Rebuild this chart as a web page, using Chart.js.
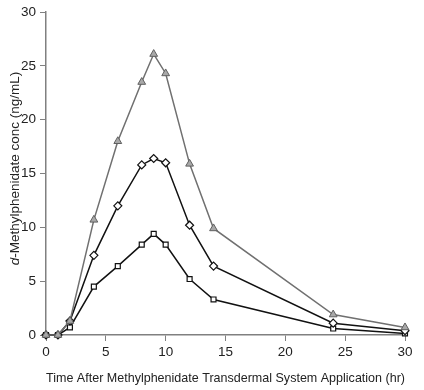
<!DOCTYPE html>
<html>
<head>
<meta charset="utf-8">
<script src="https://cdn.jsdelivr.net/npm/chart.js@4/dist/chart.umd.min.js"></script>
<style>
  html, body { margin: 0; padding: 0; background: #fff; }
  #wrap { width: 424px; height: 390px; position: relative; }
</style>
</head>
<body>
<div id="wrap"><canvas id="c"></canvas></div>
<script>
// hours after application
const hours = [0, 1, 2, 4, 6, 8, 9, 10, 12, 14, 24, 30];
// d-methylphenidate concentration (ng/mL), three dose groups
const concHigh = [0, 0, 1.3, 10.7, 18.0, 23.5, 26.1, 24.3, 15.9, 9.9, 1.9, 0.7];
const concMid  = [0, 0, 1.3, 7.4, 12.0, 15.8, 16.4, 16.0, 10.2, 6.4, 1.1, 0.4];
const concLow  = [0, 0, 0.7, 4.5, 6.4, 8.4, 9.4, 8.4, 5.2, 3.3, 0.6, 0.15];

const xTitle = 'Time After Methylphenidate Transdermal System Application (hr)';
const yTitleItalic = 'd';
const yTitleRest = '-Methylphenidate conc (ng/mL)';

const FONT = '"Liberation Sans", Arial, sans-serif';
const FS = 13.5;
const AXIS = '#808080';

const toPoints = vals => hours.map((h, i) => ({ x: h, y: vals[i] }));

// y axis title with the italic "d"
const yTitlePlugin = {
  id: 'yTitle',
  afterDraw(chart) {
    const ctx = chart.ctx;
    const area = chart.chartArea;
    ctx.save();
    ctx.translate(15, (area.top + area.bottom) / 2 - 5);
    ctx.rotate(-Math.PI / 2);
    ctx.fillStyle = '#222';
    ctx.textBaseline = 'middle';
    ctx.font = 'italic ' + FS + 'px ' + FONT;
    const w1 = ctx.measureText(yTitleItalic).width;
    ctx.font = FS + 'px ' + FONT;
    const w2 = ctx.measureText(yTitleRest).width;
    let x0 = -(w1 + w2) / 2;
    ctx.font = 'italic ' + FS + 'px ' + FONT;
    ctx.fillText(yTitleItalic, x0, 0);
    ctx.font = FS + 'px ' + FONT;
    ctx.fillText(yTitleRest, x0 + w1, 0);
    ctx.restore();
  }
};

const ctx = document.getElementById('c').getContext('2d');

new Chart(ctx, {
  type: 'line',
  data: {
    datasets: [
      {
        label: 'high',
        data: toPoints(concHigh),
        borderColor: '#707070',
        backgroundColor: '#a8a8a8',
        pointBorderColor: '#606060',
        pointStyle: 'triangle',
        pointRadius: 4.5,
        borderWidth: 1.5,
        pointBorderWidth: 1,
      },
      {
        label: 'mid',
        data: toPoints(concMid),
        borderColor: '#111',
        backgroundColor: '#fff',
        pointStyle: 'rectRot',
        pointRadius: 4,
        borderWidth: 1.5,
        pointBorderWidth: 1.2,
      },
      {
        label: 'low',
        data: toPoints(concLow),
        borderColor: '#111',
        backgroundColor: '#fff',
        pointStyle: 'rect',
        pointRadius: 3.5,
        borderWidth: 1.5,
        pointBorderWidth: 1.2,
      },
    ]
  },
  options: {
    responsive: true,
    maintainAspectRatio: false,
    animation: false,
    clip: false,
    layout: { padding: { top: 9, right: 19, left: 0, bottom: 0 } },
    plugins: {
      legend: { display: false },
      tooltip: { enabled: false },
    },
    scales: {
      x: {
        type: 'linear',
        min: 0,
        max: 30,
        ticks: { stepSize: 5, color: '#222', font: { family: FONT, size: FS }, padding: 3 },
        grid: { display: true, drawOnChartArea: false, tickLength: 6, color: AXIS },
        border: { color: AXIS, width: 1.5 },
        title: { display: true, text: xTitle, color: '#222', font: { family: FONT, size: FS }, padding: { top: 6 } },
        afterFit(scale) { scale.height = 55; },
      },
      y: {
        min: 0,
        max: 30,
        ticks: { stepSize: 5, color: '#222', font: { family: FONT, size: FS }, padding: 4 },
        grid: { display: true, drawOnChartArea: false, tickLength: 6, color: AXIS },
        border: { color: AXIS, width: 1.5 },
        afterFit(scale) { scale.width = 46; },
      }
    }
  },
  plugins: [yTitlePlugin]
});
</script>
</body>
</html>
